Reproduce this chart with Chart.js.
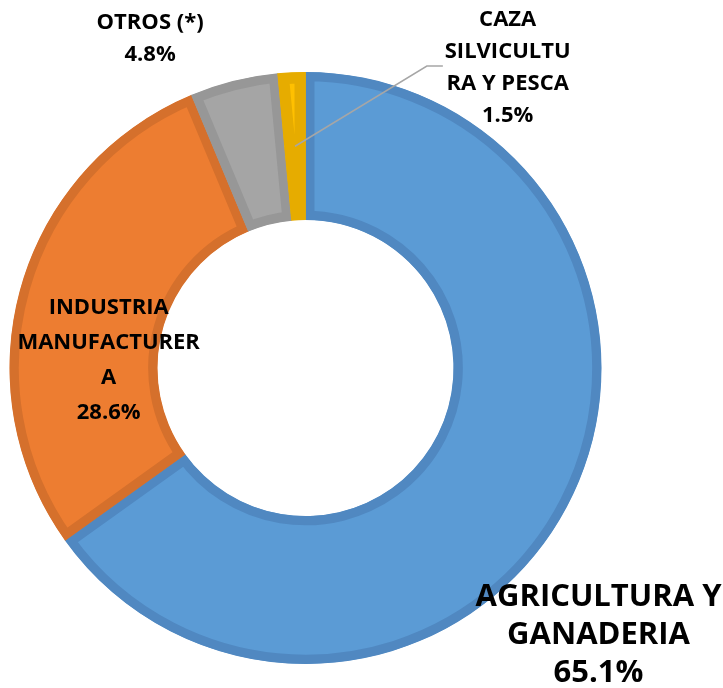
<!DOCTYPE html>
<html>
<head>
<meta charset="utf-8">
<script src="https://cdn.jsdelivr.net/npm/chart.js@4/dist/chart.umd.min.js"></script>
<style>
html,body{margin:0;padding:0;background:#fff;}
#wrap{width:723px;height:688px;position:relative;}
</style>
</head>
<body>
<div id="wrap"><canvas id="c" width="723" height="688"></canvas></div>
<script>
// ---- data ----
const categories = ["AGRICULTURA Y GANADERIA", "INDUSTRIA MANUFACTURERA", "OTROS (*)", "CAZA SILVICULTURA Y PESCA"];
const shares = [65.1, 28.6, 4.8, 1.5];
const labelLines = [
  ["AGRICULTURA Y", "GANADERIA"],
  ["INDUSTRIA", "MANUFACTURER", "A"],
  ["OTROS (*)"],
  ["CAZA", "SILVICULTU", "RA Y PESCA"]
];

// ---- styles ----
const fillColors = ["#5B9BD5", "#ED7D31", "#A5A5A5", "#FFC000"];
const edgeColors = ["#5088C1", "#D5702C", "#979797", "#E6AC00"];
const edgeWidths = [9, 9, 9, 11];
// label placement relative to doughnut centre, in units of outer radius
const labelStyle = [
  {dx: 0.99, dy: 0.775, size: 31, gap: 38},
  {dx: -0.665, dy: -0.205, size: 22, gap: 35},
  {dx: -0.525, dy: -1.168, size: 22, gap: 32},
  {dx: 0.683, dy: -1.175, size: 22, gap: 32}
];
const leaderIndex = 3;

const labelPlugin = {
  id: 'sliceLabels',
  afterDatasetsDraw(chart) {
    const ctx = chart.ctx;
    const meta = chart.getDatasetMeta(0);
    const ds = chart.data.datasets[0];
    const a0 = meta.data[0];
    const cx = a0.x, cy = a0.y, R = a0.outerRadius;
    ctx.save();
    // leader line for the small slice
    const arc = meta.data[leaderIndex];
    const mid = (arc.startAngle + arc.endAngle) / 2;
    const rMid = (arc.innerRadius + arc.outerRadius) / 2;
    const sx = cx + Math.cos(mid) * rMid, sy = cy + Math.sin(mid) * rMid;
    const ex = cx + R * 0.41, ey = cy - R * 1.02;
    ctx.strokeStyle = "#A6A6A6";
    ctx.lineWidth = 1.5;
    ctx.beginPath();
    ctx.moveTo(sx, sy);
    ctx.lineTo(ex, ey);
    ctx.lineTo(ex + 16, ey);
    ctx.stroke();
    // texts
    ctx.fillStyle = "#000";
    ctx.textAlign = "center";
    ctx.textBaseline = "middle";
    ds.data.forEach((v, i) => {
      const s = labelStyle[i];
      const lines = labelLines[i].concat([v.toFixed(1) + "%"]);
      ctx.font = "bold " + s.size + "px 'Open Sans', sans-serif";
      const x = cx + s.dx * R;
      let y = cy + s.dy * R;
      lines.forEach(t => { ctx.fillText(t, x, y); y += s.gap; });
    });
    ctx.restore();
  }
};

new Chart(document.getElementById('c'), {
  type: 'doughnut',
  data: {
    labels: categories,
    datasets: [{
      data: shares,
      backgroundColor: fillColors,
      borderColor: edgeColors,
      borderWidth: edgeWidths,
      borderAlign: 'inner',
      borderJoinStyle: 'miter'
    }]
  },
  options: {
    responsive: false,
    animation: false,
    events: [],
    cutout: '50%',
    rotation: 0,
    layout: {padding: {left: 9, right: 121, top: 72, bottom: 24}},
    plugins: {legend: {display: false}, tooltip: {enabled: false}}
  },
  plugins: [labelPlugin]
});
</script>
</body>
</html>
